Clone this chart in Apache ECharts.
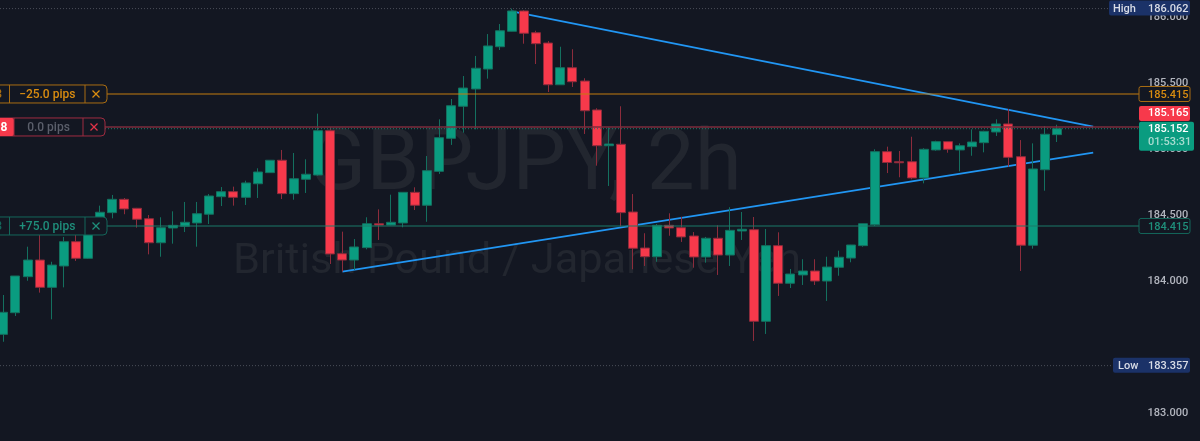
<!DOCTYPE html>
<html>
<head>
<meta charset="utf-8">
<style>html,body{margin:0;background:#131722}#chart{width:1200px;height:441px}</style>
<script src="https://cdn.jsdelivr.net/npm/echarts@6/dist/echarts.min.js"></script>
</head>
<body>
<div id="chart"></div>
<script>
var opens = [183.594,183.758,184.031,184.157,183.950,184.112,184.296,184.170,184.445,184.516,
  184.617,184.549,184.470,184.288,184.400,184.413,184.438,184.504,184.637,184.675,
  184.632,184.735,184.819,184.913,184.660,184.769,184.801,185.137,184.205,184.157,
  184.251,184.432,184.422,184.438,184.670,184.572,184.829,185.079,185.322,185.453,
  185.604,185.773,185.890,186.044,185.879,185.801,185.485,185.614,185.513,185.294,
  185.023,185.034,184.521,184.248,184.182,184.420,184.402,184.339,184.180,184.322,
  184.195,184.377,184.387,183.693,184.266,183.981,184.044,184.074,183.998,184.102,
  184.172,184.266,184.425,184.978,184.902,184.902,184.779,184.991,185.054,184.991,
  185.016,185.046,185.127,185.188,184.940,184.269,184.841,185.107];
var closes = [183.761,184.036,184.157,183.950,184.119,184.296,184.170,184.445,184.519,184.617,
  184.544,184.466,184.288,184.402,184.420,184.443,184.508,184.642,184.675,184.632,
  184.741,184.824,184.913,184.660,184.773,184.807,185.137,184.203,184.157,184.256,
  184.432,184.422,184.443,184.670,184.572,184.834,185.084,185.326,185.460,185.610,
  185.779,185.894,186.044,185.875,185.796,185.485,185.614,185.508,185.288,185.023,
  185.036,184.516,184.246,184.182,184.420,184.400,184.332,184.180,184.322,184.195,
  184.382,184.390,183.693,184.266,183.981,184.051,184.074,183.998,184.104,184.178,
  184.271,184.432,184.978,184.896,184.894,184.779,184.996,185.054,184.996,185.023,
  185.051,185.132,185.188,184.935,184.269,184.847,185.110,185.152];
var lows = [183.538,183.733,184.000,183.910,183.708,183.950,184.150,184.165,184.430,184.473,
  184.504,184.402,184.200,184.182,184.281,184.369,184.258,184.430,184.566,184.569,
  184.574,184.627,184.819,184.619,184.614,184.665,184.796,184.127,184.069,184.082,
  184.238,184.309,184.420,184.405,184.536,184.447,184.809,185.029,185.122,185.147,
  185.531,185.748,185.888,185.796,185.642,185.430,185.483,185.468,185.112,184.872,
  184.718,184.410,184.087,184.112,184.144,184.341,184.294,184.099,184.137,184.044,
  184.112,184.309,183.544,183.597,183.885,183.945,183.968,183.968,183.847,184.038,
  184.140,184.258,184.415,184.816,184.784,184.769,184.738,184.985,184.970,184.829,
  184.947,184.973,185.097,184.864,184.074,184.243,184.682,185.051];
var highs = [183.892,184.036,184.258,184.347,184.144,184.332,184.347,184.475,184.569,184.650,
  184.627,184.552,184.498,184.481,184.526,184.597,184.597,184.657,184.710,184.713,
  184.758,184.852,184.915,184.991,184.968,184.920,185.266,185.163,184.372,184.316,
  184.481,184.541,184.652,184.672,184.708,184.945,185.223,185.377,185.551,185.703,
  185.869,185.945,186.062,186.050,185.894,185.816,185.773,185.754,185.534,185.307,
  185.163,185.322,184.657,184.360,184.430,184.511,184.485,184.369,184.332,184.420,
  184.557,184.521,184.483,184.392,184.367,184.089,184.163,184.163,184.182,184.228,
  184.272,184.433,184.996,185.016,184.983,185.091,185.004,185.061,185.056,185.041,
  185.147,185.137,185.223,185.301,185.066,185.041,185.172,185.182];

var tickValues = [183, 184, 184.5, 185, 185.5, 186];
var trendUpper = [[42, 186.040], [90, 185.167]];
var trendLower = [[28, 184.069], [90, 184.970]];
var highPrice = 186.062;
var lowPrice = 183.357;
var lastPrice = 185.152;
var countdown = '01:53:31';
var targetPrice = 185.415;
var entryPrice = 185.165;
var stopPrice = 184.415;
var targetPips = '\u221225.0 pips';
var entryPips = '0.0 pips';
var stopPips = '+75.0 pips';

var categories = [];
for (var i = 0; i < 94; i++) {
  categories.push(i + '');
}

var candles = [];
for (var i = 0; i < opens.length; i++) {
  candles.push([opens[i], closes[i], lows[i], highs[i]]);
}

var bg = '#131722';
var font = 'Roboto, sans-serif';

function hline(x1, x2, y, color, width, dash) {
  return {type: 'line', shape: {x1: x1, y1: y, x2: x2, y2: y},
    style: {stroke: color, lineWidth: width, lineDash: dash || null}};
}
function box(x, y, w, h, fill, stroke, r) {
  return {type: 'rect', shape: {x: x, y: y, width: w, height: h, r: r || 2},
    style: {fill: fill, stroke: stroke || null, lineWidth: 1}};
}
function txt(x, y, text, color, align, size, weight) {
  return {type: 'text', style: {x: x, y: y + 1, text: text, fill: color, textAlign: align || 'left',
    textVerticalAlign: 'middle', font: (weight || '500') + ' ' + (size || 11) + 'px ' + font}};
}
function seg(x1, y1, x2, y2, color, width) {
  return {type: 'line', shape: {x1: x1, y1: y1, x2: x2, y2: y2}, style: {stroke: color, lineWidth: width || 1}};
}

// left pip tag: stub of the price, pips, close cross
function pipTag(y, right, color, pips, pipColor, crossColor, div1, div2, stub, stubX, stubFill) {
  var top = y - 9, kids = [];
  kids.push(box(-6, top, right + 6, 18, bg, color, 4));
  if (stubFill) kids.push(box(-6, top, div1 + 6, 18, stubFill, null, 0));
  kids.push(seg(div1, top, div1, top + 18, color));
  kids.push(seg(div2, top, div2, top + 18, color));
  kids.push(txt(stubX, y, stub, stubFill ? '#ffffff' : color, 'right', 12, stubFill ? 'bold' : '500'));
  kids.push(txt((div1 + div2) / 2, y, pips, pipColor, 'center', 12));
  var cx = (div2 + right) / 2;
  kids.push(seg(cx - 3.5, y - 3.5, cx + 3.5, y + 3.5, crossColor, 1.2));
  kids.push(seg(cx - 3.5, y + 3.5, cx + 3.5, y - 3.5, crossColor, 1.2));
  return kids;
}

function renderLevel(params, api) {
  var y = api.coord([0, api.value(1)])[1];
  var kids = [];
  switch (params.dataIndex) {
    case 0: // high
      kids.push(hline(0, 1109, y, '#4a4e58', 1, [1, 2]));
      kids.push(box(1109, y - 8, 81, 15, '#1b3268'));
      kids.push(txt(1113, y, 'High', '#d8dce6'));
      kids.push(txt(1148, y, highPrice.toFixed(3), '#d8dce6'));
      break;
    case 1: // low
      kids.push(hline(0, 1113, y, '#4a4e58', 1, [1, 2]));
      kids.push(box(1113, y - 8, 77, 15, '#1b3268'));
      kids.push(txt(1118, y, 'Low', '#d8dce6'));
      kids.push(txt(1148, y, lowPrice.toFixed(3), '#d8dce6'));
      break;
    case 2: // last price
      kids.push(hline(0, 1139, y, '#1b7a68', 1, [1, 2]));
      kids.push(box(1139, y - 7, 55, 29, '#0a9c80'));
      kids.push(txt(1148, y, lastPrice.toFixed(3), '#ffffff'));
      kids.push(txt(1148, y + 13, countdown, '#a8dcd0'));
      break;
    case 3: // take profit
      kids.push(hline(107, 1139, y, '#c47d0e', 1.2));
      kids = kids.concat(pipTag(y, 107, '#a96d12', targetPips, '#d98c10', '#d98c10', 9.5, 85, '3', 2));
      kids.push(box(1139, y - 7.5, 51, 15, bg, '#a96d12'));
      kids.push(txt(1148, y, targetPrice.toFixed(3), '#d98c10'));
      break;
    case 4: // entry, tag is pushed up by the last price tag
      kids.push(hline(105, 1139, y, '#7c2c3c', 1.6));
      kids = kids.concat(pipTag(y, 105, '#a02c40', entryPips, '#5b5f6b', '#e03348', 14, 83, '8', 7.5, '#f7394b'));
      kids.push(box(1139, y - 21, 51, 15, '#f7394b'));
      kids.push(txt(1148, y - 15, entryPrice.toFixed(3), '#ffffff'));
      break;
    case 5: // stop
      kids.push(hline(107, 1139, y, '#1b7a68', 1.2));
      kids = kids.concat(pipTag(y, 107, '#14665a', stopPips, '#1f8f7b', '#1f8f7b', 9.5, 85, '3', 2));
      kids.push(box(1139, y - 7.5, 51, 15, bg, '#14665a'));
      kids.push(txt(1148, y, stopPrice.toFixed(3), '#1f8f7b'));
      break;
  }
  return {type: 'group', children: kids};
}

var myChart = echarts.init(document.getElementById('chart'));
var option = {
  animation: false,
  backgroundColor: bg,
  grid: {left: -2.75, top: 0, width: 1138.34, height: 441, outerBoundsMode: 'none'},
  graphic: [
    {type: 'text', silent: true, z: 0, style: {x: 525, y: 168, text: 'GBPJPY, 2h', fill: '#22262f',
      textAlign: 'center', textVerticalAlign: 'middle', font: '85.5px ' + font}},
    {type: 'text', silent: true, z: 0, style: {x: 517, y: 262, text: 'British Pound / Japanese Yen', fill: '#22262f',
      textAlign: 'center', textVerticalAlign: 'middle', font: '43.4px ' + font}}
  ],
  xAxis: {type: 'category', data: categories, show: false},
  yAxis: {
    type: 'value',
    position: 'right',
    min: 182.786,
    max: 186.127,
    axisLine: {show: false},
    axisTick: {show: false},
    splitLine: {show: false},
    axisLabel: {
      customValues: tickValues,
      color: '#b2b5be',
      fontFamily: font,
      fontSize: 11,
      fontWeight: 500,
      margin: 12,
      padding: [2, 0, 0, 0],
      formatter: function (v) { return v.toFixed(3); }
    }
  },
  series: [
    {name: 'trendUpper', type: 'line', data: trendUpper, z: 1, symbol: 'none', lineStyle: {color: '#2196f3', width: 1.8}},
    {name: 'trendLower', type: 'line', data: trendLower, z: 1, symbol: 'none', lineStyle: {color: '#2196f3', width: 1.8}},
    {
      name: 'GBPJPY',
      type: 'candlestick',
      data: candles,
      z: 2,
      barWidth: 9.5,
      itemStyle: {
        color: '#0a9c80',
        color0: '#f7394b',
        borderColor: '#14705f',
        borderColor0: '#8c2c3c',
        borderWidth: 1
      }
    },
    {
      name: 'levels',
      type: 'custom',
      z: 5,
      silent: true,
      renderItem: renderLevel,
      encode: {x: 0, y: 1},
      data: [[0, highPrice], [0, lowPrice], [0, lastPrice], [0, targetPrice], [0, entryPrice], [0, stopPrice]]
    }
  ]
};
myChart.setOption(option);
</script>
</body>
</html>
